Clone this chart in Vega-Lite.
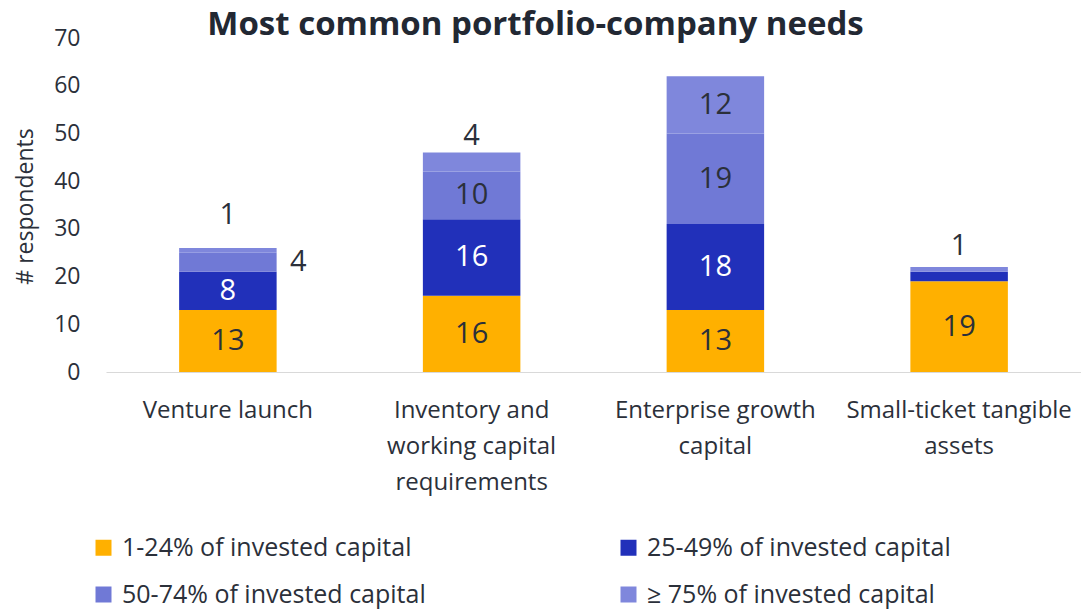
{
  "$schema": "https://vega.github.io/schema/vega-lite/v6.json",
  "autosize": "none",
  "width": 975,
  "height": 334,
  "padding": {"left": 106, "top": 38, "right": 0, "bottom": 237},
  "background": "white",
  "config": {
    "font": "Open Sans",
    "view": {"stroke": null},
    "axis": {"labelColor": "#2b303a", "titleColor": "#2b303a", "labelFont": "Open Sans", "titleFont": "Open Sans"}
  },
  "title": {
    "text": "Most common portfolio-company needs",
    "font": "Open Sans",
    "fontSize": 33,
    "fontWeight": "bold",
    "color": "#222833",
    "anchor": "middle",
    "dx": -58,
    "baseline": "alphabetic",
    "offset": -41,
    "frame": "group"
  },
  "data": {
    "values": [
      {"need": "Venture launch", "share": "1-24% of invested capital", "order": 1, "value": 13},
      {"need": "Venture launch", "share": "25-49% of invested capital", "order": 2, "value": 8},
      {"need": "Venture launch", "share": "50-74% of invested capital", "order": 3, "value": 4},
      {"need": "Venture launch", "share": "≥ 75% of invested capital", "order": 4, "value": 1},
      {"need": "Inventory and working capital requirements", "share": "1-24% of invested capital", "order": 1, "value": 16},
      {"need": "Inventory and working capital requirements", "share": "25-49% of invested capital", "order": 2, "value": 16},
      {"need": "Inventory and working capital requirements", "share": "50-74% of invested capital", "order": 3, "value": 10},
      {"need": "Inventory and working capital requirements", "share": "≥ 75% of invested capital", "order": 4, "value": 4},
      {"need": "Enterprise growth capital", "share": "1-24% of invested capital", "order": 1, "value": 13},
      {"need": "Enterprise growth capital", "share": "25-49% of invested capital", "order": 2, "value": 18},
      {"need": "Enterprise growth capital", "share": "50-74% of invested capital", "order": 3, "value": 19},
      {"need": "Enterprise growth capital", "share": "≥ 75% of invested capital", "order": 4, "value": 12},
      {"need": "Small-ticket tangible assets", "share": "1-24% of invested capital", "order": 1, "value": 19},
      {"need": "Small-ticket tangible assets", "share": "25-49% of invested capital", "order": 2, "value": 2},
      {"need": "Small-ticket tangible assets", "share": "50-74% of invested capital", "order": 3, "value": 0},
      {"need": "Small-ticket tangible assets", "share": "≥ 75% of invested capital", "order": 4, "value": 1}
    ]
  },
  "transform": [
    {"stack": "value", "groupby": ["need"], "sort": [{"field": "order", "order": "ascending"}], "as": ["y0", "y1"]},
    {"calculate": "(datum.y0 + datum.y1) / 2", "as": "ymid"}
  ],
  "encoding": {
    "x": {
      "field": "need",
      "type": "nominal",
      "sort": ["Venture launch", "Inventory and working capital requirements", "Enterprise growth capital", "Small-ticket tangible assets"],
      "scale": {"paddingInner": 0.6, "paddingOuter": 0.3},
      "axis": {
        "title": null,
        "labelAngle": 0,
        "labelFontSize": 24,
        "labelLineHeight": 36,
        "labelPadding": 26,
        "labelLimit": 400,
        "ticks": false,
        "tickSize": 0,
        "domain": true,
        "domainColor": "#d9d9d9",
        "domainWidth": 1,
        "labelExpr": "datum.value == 'Inventory and working capital requirements' ? ['Inventory and', 'working capital', 'requirements'] : datum.value == 'Enterprise growth capital' ? ['Enterprise growth', 'capital'] : datum.value == 'Small-ticket tangible assets' ? ['Small-ticket tangible', 'assets'] : datum.value"
      }
    }
  },
  "layer": [
    {
      "mark": {"type": "bar"},
      "encoding": {
        "y": {
          "field": "y0",
          "type": "quantitative",
          "scale": {"domain": [0, 70], "nice": false},
          "axis": {
            "title": "# respondents",
            "titleFontSize": 23,
            "titleFontWeight": "normal",
            "titleX": -81,
            "titleY": 168,
            "titleBaseline": "middle",
            "titleAngle": -90,
            "values": [0, 10, 20, 30, 40, 50, 60, 70],
            "labelFontSize": 23,
            "labelPadding": 26,
            "ticks": false,
            "tickSize": 0,
            "domain": false,
            "grid": false
          }
        },
        "y2": {"field": "y1"},
        "color": {
          "field": "share",
          "type": "nominal",
          "sort": ["1-24% of invested capital", "25-49% of invested capital", "50-74% of invested capital", "≥ 75% of invested capital"],
          "scale": {
            "domain": ["1-24% of invested capital", "25-49% of invested capital", "50-74% of invested capital", "≥ 75% of invested capital"],
            "range": ["#FFB000", "#2130BA", "#7079D6", "#7F87DC"]
          },
          "legend": {
            "title": null,
            "orient": "none",
            "legendX": -15,
            "legendY": 497,
            "direction": "horizontal",
            "columns": 2,
            "columnPadding": 190,
            "rowPadding": 21,
            "symbolType": "square",
            "symbolSize": 256,
            "symbolStrokeWidth": 0,
            "labelFont": "Open Sans",
            "labelFontSize": 25,
            "labelColor": "#2b303a",
            "labelOffset": 6,
            "labelLimit": 500
          }
        }
      }
    },
    {
      "transform": [{"filter": "datum.value >= 8"}],
      "mark": {"type": "text", "fontSize": 29, "baseline": "middle", "align": "center"},
      "encoding": {
        "y": {"field": "ymid", "type": "quantitative"},
        "text": {"field": "value", "type": "quantitative"},
        "color": {
          "condition": {"test": "datum.order == 2", "value": "white"},
          "value": "#2b303a"
        }
      }
    },
    {
      "transform": [
        {"filter": "datum.order == 4 && datum.value > 0 && datum.value < 8"},
        {"calculate": "datum.y1 + (datum.need == 'Venture launch' ? 5 : datum.need == 'Small-ticket tangible assets' ? 2.5 : 1.5)", "as": "labelY"}
      ],
      "mark": {"type": "text", "fontSize": 29, "baseline": "alphabetic", "align": "center", "color": "#2b303a"},
      "encoding": {
        "y": {"field": "labelY", "type": "quantitative"},
        "text": {"field": "value", "type": "quantitative"}
      }
    },
    {
      "transform": [{"filter": "datum.order == 3 && datum.value > 0 && datum.value < 8"}],
      "mark": {"type": "text", "fontSize": 29, "baseline": "middle", "align": "left", "dx": 62, "color": "#2b303a"},
      "encoding": {
        "y": {"field": "ymid", "type": "quantitative"},
        "text": {"field": "value", "type": "quantitative"}
      }
    }
  ]
}
